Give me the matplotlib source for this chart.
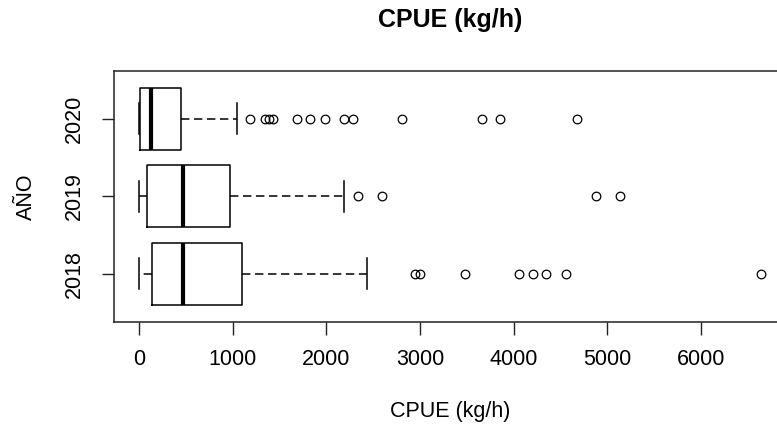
import matplotlib
matplotlib.use("Agg")
import matplotlib.pyplot as plt

years = ["2018", "2019", "2020"]
whislo = [0, 0, 2]
q1 = [139, 82, 11]
med = [470, 470, 125]
q3 = [1096, 968, 445]
whishi = [2433, 2191, 1049]
fliers = [
    [2945, 2999, 3476, 4052, 4205, 4341, 4557, 6635],
    [2334, 2597, 4874, 5133],
    [1181, 1341, 1387, 1430, 1683, 1825, 1988, 2191, 2281, 2810, 3664, 3853, 4675],
]
xticks = [0, 1000, 2000, 3000, 4000, 5000, 6000]

plt.rcParams['font.family'] = ['Liberation Sans', 'DejaVu Sans']

fig = plt.figure(figsize=(7.77, 4.28), dpi=100)
ax = fig.add_axes([114 / 777, 1 - 321.7 / 428, (785 - 114) / 777, (321.7 - 70.7) / 428])

stats = []
for i in range(len(years)):
    stats.append(dict(label=years[i], whislo=whislo[i], q1=q1[i], med=med[i],
                      q3=q3[i], whishi=whishi[i], fliers=fliers[i]))

ax.bxp(stats, positions=[1, 2, 3], vert=False, widths=0.8, showfliers=True,
       boxprops=dict(color='black', linewidth=1.1),
       medianprops=dict(color='black', linewidth=3.0, solid_capstyle='butt'),
       whiskerprops=dict(color='black', linewidth=1.1, linestyle=(0, (5.5, 3))),
       capprops=dict(color='black', linewidth=1.1),
       capwidths=0.4,
       flierprops=dict(marker='o', markerfacecolor='none', markeredgecolor='black',
                       markersize=6.2, markeredgewidth=0.9, linestyle='none'))

ax.set_xlim(-265, 6895)
ax.set_ylim(0.38, 3.62)
ax.set_xticks(xticks)
ax.set_xticklabels([str(t) for t in xticks])
ax.set_yticks([1, 2, 3])
ax.set_yticklabels(years, rotation=90, va='center')

for s in ax.spines.values():
    s.set_linewidth(1.1)
    s.set_color('#222222')

ax.tick_params(axis='both', length=9, width=1.0, color='#222222', labelsize=15.5)
ax.tick_params(axis='x', pad=11)
ax.tick_params(axis='y', pad=12)

fig.text(450 / 777, 1 - 20.5 / 428, "CPUE (kg/h)", ha='center', va='center',
         fontsize=18, fontweight='bold')
fig.text(450 / 777, 1 - 412 / 428, "CPUE (kg/h)", ha='center', va='center', fontsize=15.5)
fig.text(26 / 777, 1 - 196.7 / 428, "AÑO", ha='center', va='center', fontsize=15.5,
         rotation=90)

fig.savefig("out.png", dpi=100)
